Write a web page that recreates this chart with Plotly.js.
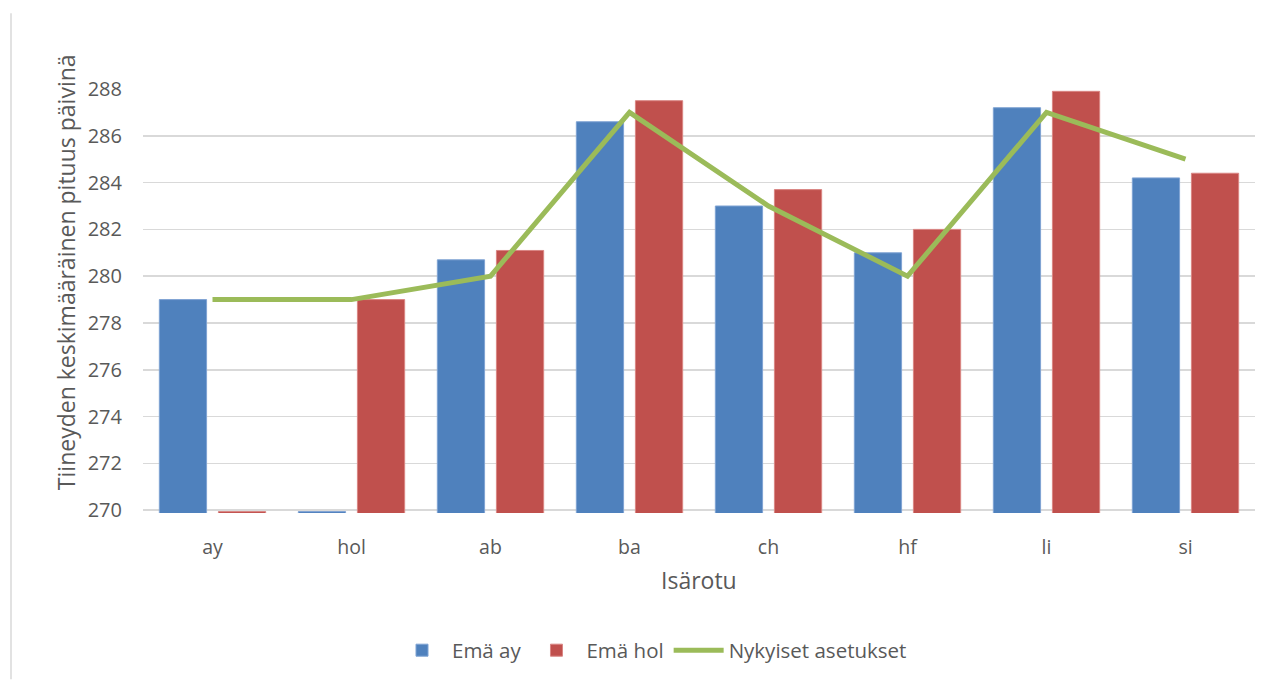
<!DOCTYPE html>
<html>
<head>
<meta charset="utf-8">
<script src="https://cdn.plot.ly/plotly-3.0.1.min.js"></script>
<style>
  html, body { margin: 0; padding: 0; background: #fff; }
  #chart { width: 1275px; height: 682px; }
</style>
</head>
<body>
<div id="chart"></div>
<script>
// Categories (sire breed)
const categories = ["ay", "hol", "ab", "ba", "ch", "hf", "li", "si"];
// Dam ay
const emaAy = [279.0, 269.94, 280.7, 286.6, 283.0, 281.0, 287.2, 284.2];
// Dam hol
const emaHol = [269.94, 279.0, 281.1, 287.5, 283.7, 282.0, 287.9, 284.4];
// Current settings
const nykyiset = [279, 279, 280, 287, 283, 280, 287, 285];
const seriesNames = ["Emä ay", "Emä hol", "Nykyiset asetukset"];
const yTitle = "Tiineyden keskimääräinen pituus päivinä";
const xTitle = "Isärotu";

const FONT = "'Open Sans', sans-serif";
const TXT = "#595959";

const W = 1275, H = 682;
const L = 143, R = 20, T = 89, B = 167;
const plotW = W - L - R, plotH = H - T - B;
const px2x = p => (p - L) / plotW;
const px2y = p => (H - B - p) / plotH;

const traces = [
  { type: "bar", name: seriesNames[0], x: categories, y: emaAy,
    marker: { color: "#4F81BD", line: { color: "#7FA3D3", width: 1 } } },
  { type: "bar", name: seriesNames[1], x: categories, y: emaHol,
    marker: { color: "#C0504D", line: { color: "#D98583", width: 1 } } },
  { type: "scatter", mode: "lines", name: seriesNames[2], x: categories, y: nykyiset,
    line: { color: "#9BBB59", width: 5 } }
];

const layout = {
  width: W, height: H,
  margin: { l: L, r: R, t: T, b: B, pad: 0 },
  paper_bgcolor: "#ffffff", plot_bgcolor: "#ffffff",
  font: { family: FONT, color: TXT, size: 18 },
  barmode: "group", bargap: 0.15, bargroupgap: 0.2,
  showlegend: true,
  legend: { orientation: "h", x: px2x(652), xanchor: "center", y: px2y(653), yanchor: "middle",
    font: { family: FONT, size: 20.5, color: TXT }, itemwidth: 50, traceorder: "normal" },
  xaxis: { type: "category", showgrid: false, zeroline: false, showline: false, ticks: "",
    tickfont: { family: FONT, size: 19.5, color: TXT }, ticklabelstandoff: 20 },
  yaxis: { range: [269.88, 288], tickvals: [270,272,274,276,278,280,282,284,286,288],
    showgrid: true, gridcolor: "#D9D9D9", gridwidth: 1.5, zeroline: false, showline: false, ticks: "",
    tickfont: { family: FONT, size: 20, color: TXT }, ticklabelstandoff: 20 },
  annotations: [
    { text: yTitle, textangle: -90, xref: "paper", yref: "paper", x: px2x(66), y: px2y(273),
      xanchor: "center", yanchor: "middle", showarrow: false, font: { family: FONT, size: 23, color: TXT } },
    { text: xTitle, xref: "paper", yref: "paper", x: px2x(699), y: px2y(582),
      xanchor: "center", yanchor: "middle", showarrow: false, font: { family: FONT, size: 23, color: TXT } }
  ],
  shapes: [
    { type: "line", xref: "paper", yref: "paper", x0: px2x(11), x1: px2x(11), y0: px2y(13), y1: px2y(682),
      line: { color: "#D9D9D9", width: 1.5 } }
  ]
};

Plotly.newPlot("chart", traces, layout, { staticPlot: true, displayModeBar: false });
</script>
</body>
</html>
